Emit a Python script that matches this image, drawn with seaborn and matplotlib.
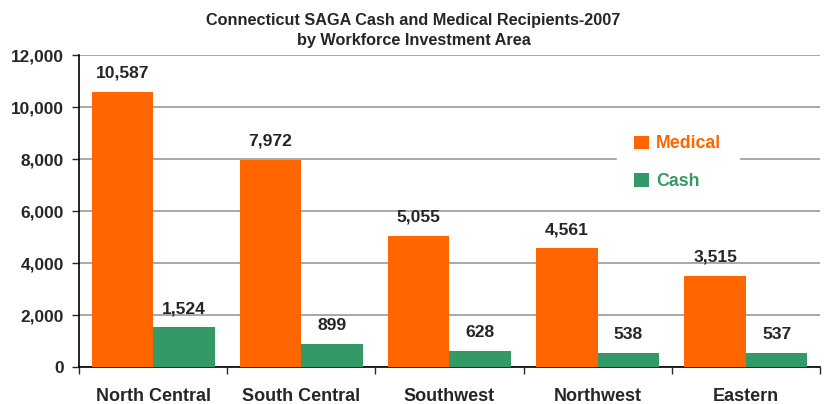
import pandas as pd
import matplotlib.pyplot as plt
import seaborn as sns
import numpy as np

areas = ['North Central', 'South Central', 'Southwest', 'Northwest', 'Eastern']
medical = [10587, 7972, 5055, 4561, 3515]
cash = [1524, 899, 628, 538, 537]
series = ['Medical', 'Cash']
colors = ['#FF6600', '#339966']

df = pd.DataFrame({
    'area': areas * 2,
    'count': medical + cash,
    'type': ['Medical'] * len(areas) + ['Cash'] * len(areas),
})

sns.set_style('white')
plt.rcParams['font.family'] = ['Liberation Sans', 'DejaVu Sans']

fig = plt.figure(figsize=(8.27, 4.04), dpi=100)
ax = fig.add_axes([0.0955, 0.0916, 0.896, 0.772])

sns.barplot(data=df, x='area', y='count', hue='type', hue_order=series,
            palette=colors, width=0.83, gap=0, saturation=1, linewidth=0,
            ax=ax, zorder=3)

for cont in ax.containers:
    labels = [f'{int(v):,}' for v in cont.datavalues]
    ax.bar_label(cont, labels=labels, padding=8, fontsize=12.6, fontweight='bold')

ax.set_ylim(0, 12000)
ax.set_xlim(-0.5, len(areas) - 0.5)
ax.set_yticks(np.arange(0, 12001, 2000))
ax.set_yticklabels([f'{v:,}' for v in range(0, 12001, 2000)], fontsize=12.4, fontweight='bold')
ax.set_xticks(range(len(areas)))
ax.set_xticklabels(areas, fontsize=13, fontweight='bold')
ax.set_xticks(np.arange(-0.5, len(areas)), minor=True)
ax.tick_params(axis='x', which='major', length=0, pad=15)
ax.tick_params(axis='x', which='minor', length=5, width=1, direction='out', bottom=True)
ax.tick_params(axis='y', length=5, width=1, direction='out', left=True, pad=6)
ax.set_xlabel('')
ax.set_ylabel('')
ax.yaxis.grid(True, color='#999999', linewidth=1.2, zorder=0)
ax.set_axisbelow(True)

for s in ['top', 'right']:
    ax.spines[s].set_visible(False)
for s in ['left', 'bottom']:
    ax.spines[s].set_color('black')
    ax.spines[s].set_linewidth(1.2)

leg = ax.legend(loc='center', bbox_to_anchor=(0.808, 0.655), frameon=True,
                prop={'weight': 'bold', 'size': 12.8},
                handlelength=0.8, handleheight=0.8, handletextpad=0.4,
                labelspacing=1.15, borderpad=1.0, borderaxespad=0)
leg.get_frame().set_facecolor('white')
leg.get_frame().set_edgecolor('white')
leg.get_frame().set_alpha(1)
leg.set_zorder(5)
for txt, c in zip(leg.get_texts(), colors):
    txt.set_color(c)

fig.suptitle('Connecticut SAGA Cash and Medical Recipients-2007\nby Workforce Investment Area',
             fontsize=11.7, fontweight='bold', y=0.968, linespacing=1.45)

fig.savefig('out.png', dpi=100)
